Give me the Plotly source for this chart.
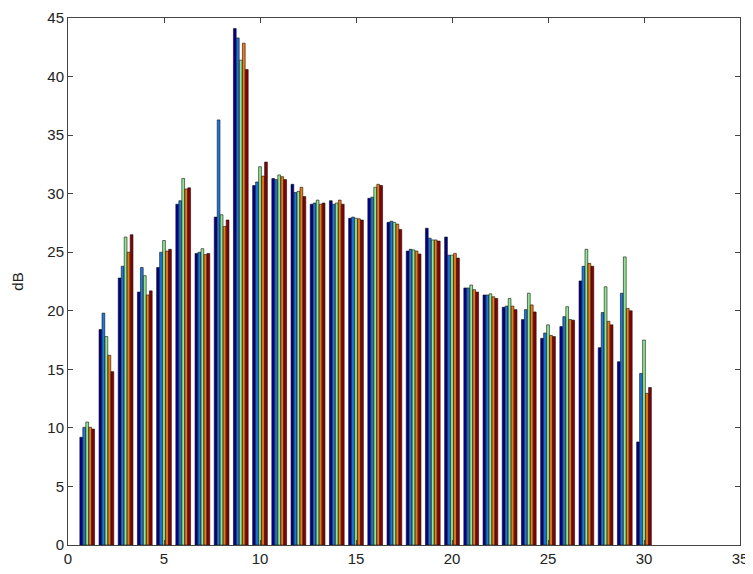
import plotly.graph_objects as go

groups = list(range(1, 31))
s1 = [9.2, 18.4, 22.8, 21.6, 23.7, 29.1, 24.9, 28.0, 44.1, 30.7,
      31.3, 30.8, 29.1, 29.4, 27.9, 29.6, 27.55, 25.1, 27.05, 26.3,
      21.95, 21.35, 20.3, 19.25, 17.65, 18.65, 22.55, 16.85, 15.65, 8.8]
s2 = [10.05, 19.8, 23.8, 23.7, 25.0, 29.4, 25.0, 36.3, 43.3, 31.0,
      31.2, 30.1, 29.2, 29.1, 28.0, 29.7, 27.65, 25.25, 26.2, 24.75,
      21.95, 21.35, 20.4, 20.1, 18.1, 19.5, 23.8, 19.85, 21.5, 14.65]
s3 = [10.5, 17.8, 26.3, 23.0, 26.0, 31.3, 25.3, 28.2, 41.4, 32.3,
      31.6, 30.2, 29.45, 29.2, 27.9, 30.55, 27.55, 25.2, 26.05, 24.75,
      22.2, 21.45, 21.05, 21.5, 18.8, 20.35, 25.25, 22.05, 24.6, 17.5]
s4 = [10.05, 16.2, 25.0, 21.35, 25.1, 30.4, 24.8, 27.2, 42.85, 31.5,
      31.45, 30.55, 29.1, 29.45, 27.85, 30.8, 27.4, 25.1, 26.05, 24.9,
      21.8, 21.2, 20.4, 20.5, 17.9, 19.25, 24.05, 19.1, 20.2, 12.95]
s5 = [9.9, 14.8, 26.5, 21.7, 25.25, 30.5, 24.9, 27.75, 40.6, 32.7,
      31.2, 29.75, 29.2, 29.1, 27.75, 30.7, 26.95, 24.85, 25.95, 24.5,
      21.6, 21.05, 20.1, 19.9, 17.8, 19.2, 23.8, 18.8, 20.0, 13.45]

series = [s1, s2, s3, s4, s5]
colors = ["#00008f", "#1a78e0", "#8ee88e", "#f27a12", "#8a0000"]

fig = go.Figure()
for vals, c in zip(series, colors):
    fig.add_trace(go.Bar(x=groups, y=vals, marker=dict(color=c, line=dict(color="#111", width=0.6)),
                         showlegend=False))

font = dict(family="Liberation Sans, Arial", size=15, color="#222")
axis_common = dict(showline=True, linecolor="#444", linewidth=1, mirror="ticks",
                   ticks="inside", ticklen=5, tickcolor="#444", showgrid=False, zeroline=False,
                   automargin=False, tickfont=font)
fig.update_layout(
    width=745, height=566,
    margin=dict(l=60, r=13, t=10, b=29),
    paper_bgcolor="white", plot_bgcolor="white",
    barmode="group", bargap=0.22, bargroupgap=0.08,
    xaxis=dict(range=[0, 35], tickvals=list(range(0, 36, 5)), **axis_common),
    yaxis=dict(range=[0, 45], tickvals=list(range(0, 46, 5)),
               title=dict(text="dB", font=font, standoff=20),
               **axis_common),
)
fig.write_html("out.html")
